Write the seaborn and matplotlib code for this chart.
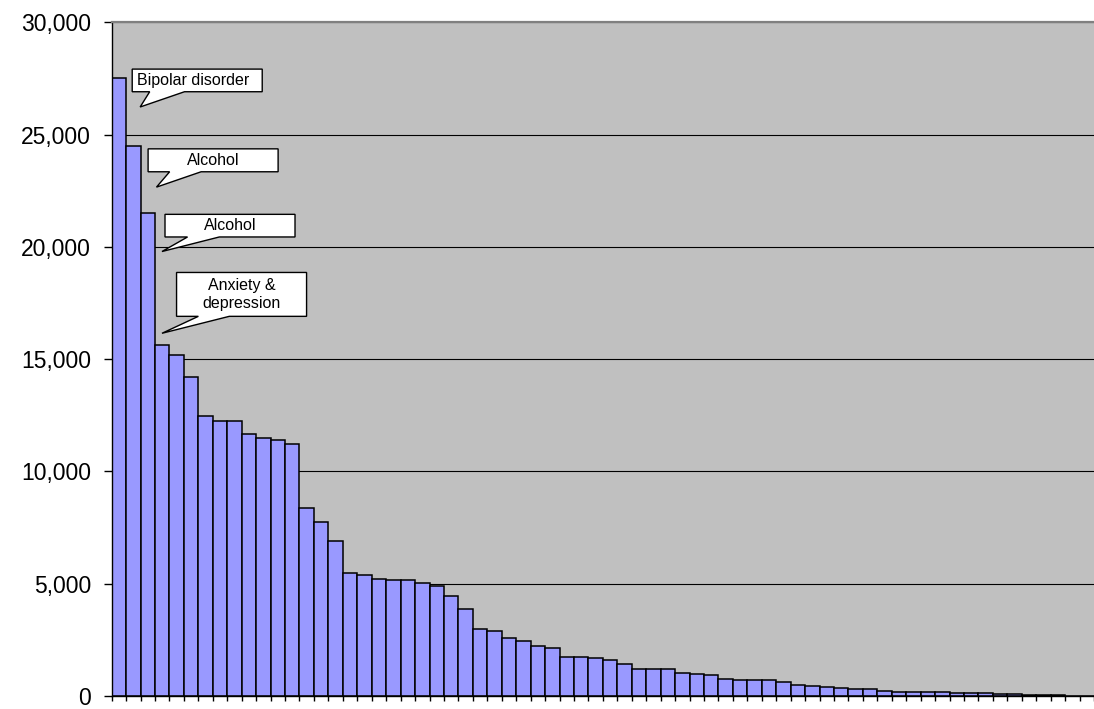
import numpy as np
import pandas as pd
import matplotlib
matplotlib.use("Agg")
import matplotlib.pyplot as plt
import seaborn as sns
from matplotlib.patches import Polygon
from matplotlib.ticker import FuncFormatter, MultipleLocator

# Admissions per diagnosis group, ranked from largest to smallest
admissions = [
    27500, 24500, 21500, 15650, 15200, 14200, 12450, 12230, 12230, 11650,
    11480, 11390, 11240, 8380, 7730, 6900, 5460, 5400, 5200, 5140,
    5140, 5040, 4890, 4470, 3880, 3000, 2890, 2590, 2440, 2220,
    2130, 1720, 1720, 1690, 1580, 1440, 1210, 1210, 1200, 1040,
    960, 920, 755, 710, 710, 720, 640, 490, 430, 400,
    340, 310, 300, 220, 190, 190, 190, 165, 120, 120,
    120, 90, 75, 30, 25, 20, 15, 10,
]
ranks = list(range(1, len(admissions) + 1))

# Callout labels
callout_text = ["Bipolar disorder", "Alcohol", "Alcohol", "Anxiety &\ndepression"]

# Callout geometry (data units): box left, box top, box bottom,
# wedge base start/end along the box bottom, pointer tip (x, y),
# and a small horizontal nudge for the text inside the box
callout_left = [0.92, 2.02, 3.19, 3.99]
callout_top = [27917, 24365, 21448, 18859]
callout_bottom = [26909, 23344, 20440, 16905]
wedge_base = [(2.13, 4.54), (3.51, 5.69), (4.75, 6.95), (5.50, 7.64)]
callout_tip = [(1.47, 26230), (2.60, 22660), (2.98, 19792), (2.98, 16150)]
text_nudge = [-0.3, 0.0, 0.0, 0.0]
callout_width = 9.0

df = pd.DataFrame({"rank": ranks, "admissions": admissions})

sns.set_theme(style="white")
plt.rcParams["font.family"] = ["Liberation Sans", "DejaVu Sans"]

fig = plt.figure(figsize=(10.94, 7.09), dpi=100)
ax = fig.add_axes([0.1021, 0.0185, 0.8979, 0.9500])
ax.set_facecolor("#C0C0C0")

sns.barplot(
    data=df, x="rank", y="admissions", color="#9999FF", saturation=1,
    width=1.0, edgecolor="black", linewidth=1.1, ax=ax, zorder=2,
)

ax.set_xlim(-0.5, 67.06)
ax.set_ylim(0, 30000)
ax.yaxis.set_major_locator(MultipleLocator(5000))
ax.yaxis.set_major_formatter(FuncFormatter(lambda v, p: f"{int(v):,}"))
ax.set_xticks(np.arange(-0.5, len(admissions) + 0.5, 1))
ax.set_xticklabels([])
ax.set_xlabel("")
ax.set_ylabel("")

ax.tick_params(axis="y", which="major", direction="out", left=True, length=6,
               width=1, color="black", pad=9, labelsize=16.5, labelcolor="black")
ax.tick_params(axis="x", which="major", direction="out", bottom=True, length=3.6,
               width=1, color="black")

ax.grid(axis="y", color="black", linewidth=0.8)
ax.grid(axis="x", visible=False)
ax.set_axisbelow(True)

for side in ("left", "bottom"):
    ax.spines[side].set_color("black")
    ax.spines[side].set_linewidth(1.0)
ax.spines["top"].set_color("#808080")
ax.spines["top"].set_linewidth(1.6)
ax.spines["right"].set_visible(False)

# Speech-bubble callouts
for text, left, top, bottom, (b0, b1), (tx, ty), dx in zip(
        callout_text, callout_left, callout_top, callout_bottom, wedge_base,
        callout_tip, text_nudge):
    right = left + callout_width
    verts = [(left, top), (right, top), (right, bottom), (b1, bottom),
             (tx, ty), (b0, bottom), (left, bottom)]
    ax.add_patch(Polygon(verts, closed=True, facecolor="white", edgecolor="black",
                         linewidth=1.0, zorder=5, joinstyle="miter"))
    ax.text((left + right) / 2 + dx, (top + bottom) / 2, text, ha="center",
            va="center", fontsize=11.5, color="black", linespacing=1.2, zorder=6)

fig.savefig("out.png", dpi=100)
